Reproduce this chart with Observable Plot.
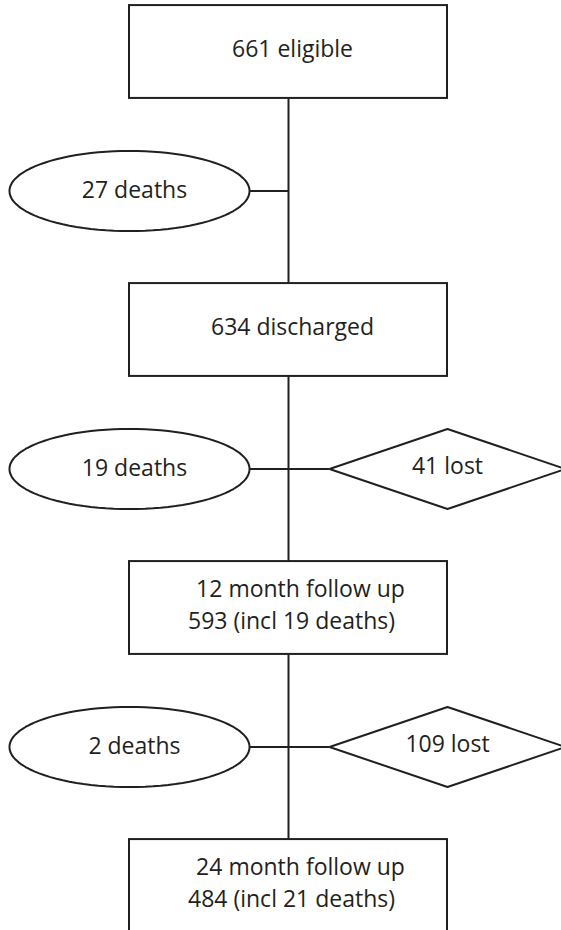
<!DOCTYPE html>
<html>
<head>
<meta charset="utf-8">
<script src="https://cdn.jsdelivr.net/npm/d3@7"></script>
<script src="https://cdn.jsdelivr.net/npm/@observablehq/plot@0.6"></script>
<style>
  html, body { margin: 0; padding: 0; background: #fff; overflow: hidden; }
  #chart svg { display: block; }
</style>
</head>
<body>
<div id="chart"></div>
<script>
// ---- data ----
const stageTitle  = ["661 eligible", "634 discharged", "12 month follow up", "24 month follow up"];
const stageDetail = [null, null, "593 (incl 19 deaths)", "484 (incl 21 deaths)"];
const deaths      = [27, 19, 2];      // exits between stage i and i+1 (ellipses)
const lost        = [null, 41, 109];  // lost to follow up (diamonds)

// ---- layout in abstract units (x: -1 deaths column, 0 main, +1 lost column; y: stage index) ----
const INK = "#231f20";
const boxHW = 1.0, boxHH = 0.167;
const ellRX = 0.755, ellRY = 0.144;
const diaHW = 0.742, diaHH = 0.144;

const stages = stageTitle.map((t, i) => ({i, title: t, detail: stageDetail[i]}));
const exits = deaths.map((d, i) => ({i, y: i + 0.5, deaths: d, lost: lost[i]}));

// ellipse outlines
const ellPts = [];
exits.forEach(e => {
  for (let k = 0; k < 96; k++) {
    const t = (k / 96) * 2 * Math.PI;
    ellPts.push({id: e.i, x: -1 + ellRX * Math.cos(t), y: e.y + ellRY * Math.sin(t)});
  }
});
// diamond outlines
const diaPts = [];
exits.filter(e => e.lost != null).forEach(e => {
  diaPts.push({id: e.i, x: 1 - diaHW, y: e.y});
  diaPts.push({id: e.i, x: 1, y: e.y - diaHH});
  diaPts.push({id: e.i, x: 1 + diaHW, y: e.y});
  diaPts.push({id: e.i, x: 1, y: e.y + diaHH});
});
// connectors
const vLinks = stages.slice(0, -1).map(s => ({x: 0, y1: s.i + boxHH, y2: s.i + 1 - boxHH}));
const hLinks = exits.map(e => ({y: e.y, x1: -1 + ellRX, x2: e.lost != null ? 1 - diaHW : 0}));

const font = "'Open Sans', 'Noto Sans', sans-serif";
const fs = 23;

const chart = Plot.plot({
  width: 561,
  height: 930,
  margin: 0,
  x: {domain: [-1, 1], range: [129, 447], axis: null},
  y: {domain: [0, 3], range: [51.5, 885.5], axis: null},
  style: {fontFamily: font, background: "#fff", color: INK},
  marks: [
    Plot.link(vLinks, {x1: "x", x2: "x", y1: "y1", y2: "y2", stroke: INK, strokeWidth: 2}),
    Plot.link(hLinks, {x1: "x1", x2: "x2", y1: "y", y2: "y", stroke: INK, strokeWidth: 2}),
    Plot.rect(stages, {x1: -boxHW, x2: boxHW, y1: d => d.i - boxHH, y2: d => d.i + boxHH,
      fill: "#fff", stroke: INK, strokeWidth: 2}),
    Plot.line(ellPts, {x: "x", y: "y", z: "id", curve: "linear-closed", fill: "#fff", stroke: INK, strokeWidth: 2}),
    Plot.line(diaPts, {x: "x", y: "y", z: "id", curve: "linear-closed", fill: "#fff", stroke: INK, strokeWidth: 2, strokeLinejoin: "miter"}),
    // single-line stage labels
    Plot.text(stages.filter(s => !s.detail), {x: 0, y: "i", text: "title", dx: 4, dy: -2,
      fontSize: fs, fill: INK, fontFamily: font}),
    // two-line stage labels
    Plot.text(stages.filter(s => s.detail), {x: 0, y: "i", text: "title", dx: 12, dy: -18,
      fontSize: fs, fill: INK, fontFamily: font}),
    Plot.text(stages.filter(s => s.detail), {x: 0, y: "i", text: "detail", dx: 3, dy: 14,
      fontSize: fs, fill: INK, fontFamily: font}),
    // exits
    Plot.text(exits, {x: -1, y: "y", text: d => `${d.deaths} deaths`, dx: 5,
      fontSize: fs, fill: INK, fontFamily: font}),
    Plot.text(exits.filter(e => e.lost != null), {x: 1, y: "y", text: d => `${d.lost} lost`, dy: -2,
      fontSize: fs, fill: INK, fontFamily: font})
  ]
});
document.getElementById("chart").appendChild(chart);
</script>
</body>
</html>
